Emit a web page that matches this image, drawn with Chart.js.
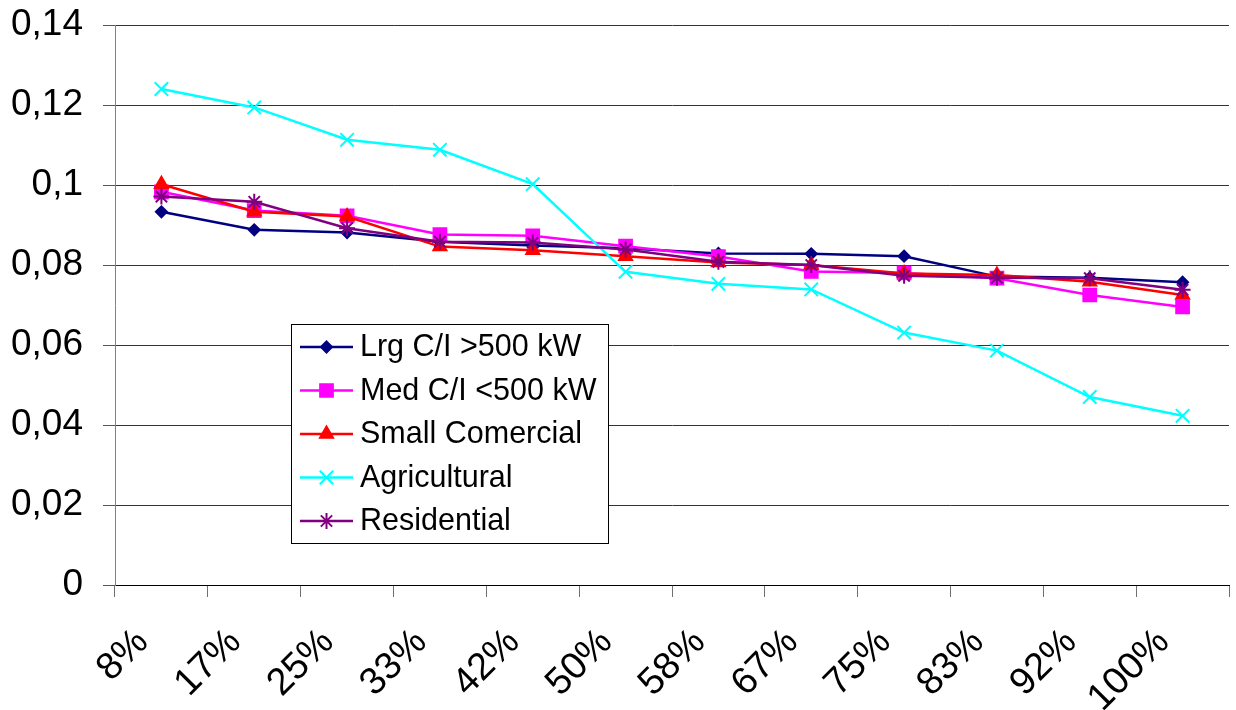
<!DOCTYPE html>
<html>
<head>
<meta charset="utf-8">
<script src="https://cdn.jsdelivr.net/npm/chart.js@4.4.1/dist/chart.umd.min.js"></script>
<style>
  html, body { margin: 0; padding: 0; background: #fff; }
  #wrap { width: 1236px; height: 710px; }
</style>
</head>
<body>
<div id="wrap"><canvas id="c" width="1236" height="710"></canvas></div>
<script>
// Load-duration share (x) against rate per customer class (y)
const categories = ['8%', '17%', '25%', '33%', '42%', '50%', '58%', '67%', '75%', '83%', '92%', '100%'];
const lrgCI        = [0.0933, 0.0888, 0.0881, 0.0858, 0.0849, 0.0842, 0.0829, 0.0828, 0.0822, 0.0771, 0.0768, 0.0757];
const medCI        = [0.0983, 0.0936, 0.0923, 0.0876, 0.0873, 0.0847, 0.0821, 0.0784, 0.0780, 0.0767, 0.0725, 0.0695];
const smallCom     = [0.1002, 0.0933, 0.0921, 0.0846, 0.0837, 0.0822, 0.0806, 0.0800, 0.0779, 0.0775, 0.0758, 0.0725];
const agricultural = [0.1240, 0.1194, 0.1113, 0.1088, 0.1002, 0.0783, 0.0753, 0.0739, 0.0631, 0.0586, 0.0470, 0.0423];
const residential  = [0.0971, 0.0958, 0.0892, 0.0858, 0.0856, 0.0839, 0.0808, 0.0800, 0.0773, 0.0768, 0.0767, 0.0738];
const yTickLabels  = ['0', '0,02', '0,04', '0,06', '0,08', '0,1', '0,12', '0,14'];

const FONT = '"Liberation Sans", Arial, sans-serif';

function series(label, data, color, style, radius, order) {
  return {
    label, data, order,
    borderColor: color, backgroundColor: color,
    borderWidth: 2.5, tension: 0,
    pointStyle: style, pointRadius: radius, pointHoverRadius: radius,
    pointBackgroundColor: color, pointBorderColor: color, pointBorderWidth: 2
  };
}

// Boxed legend sitting inside the plot area
const legendBox = {
  id: 'legendBox',
  afterDraw(chart) {
    const ctx = chart.ctx;
    const x0 = 291.5, y0 = 324.5, w = 317, h = 219;
    ctx.save();
    ctx.fillStyle = '#fff';
    ctx.fillRect(x0, y0, w, h);
    ctx.strokeStyle = '#000';
    ctx.lineWidth = 1;
    ctx.strokeRect(x0, y0, w, h);
    ctx.font = '30.5px ' + FONT;
    ctx.textBaseline = 'middle';
    ctx.textAlign = 'left';
    chart.data.datasets.forEach((ds, i) => {
      const cy = 347 + i * 43.5;
      ctx.strokeStyle = ds.borderColor;
      ctx.lineWidth = ds.borderWidth;
      ctx.beginPath();
      ctx.moveTo(300, cy);
      ctx.lineTo(353, cy);
      ctx.stroke();
      ctx.fillStyle = ds.pointBackgroundColor;
      ctx.strokeStyle = ds.pointBorderColor;
      ctx.lineWidth = ds.pointBorderWidth;
      Chart.helpers.drawPoint(ctx, {
        pointStyle: ds.pointStyle, radius: ds.pointRadius,
        borderWidth: ds.pointBorderWidth, rotation: 0
      }, 326.5, cy);
      ctx.fillStyle = '#000';
      ctx.fillText(ds.label, 360, cy + 1);
    });
    ctx.restore();
  }
};

new Chart(document.getElementById('c'), {
  type: 'line',
  data: {
    labels: categories,
    datasets: [
      series('Lrg C/I >500 kW', lrgCI, '#000080', 'rectRot', 5.5, 5),
      series('Med C/I <500 kW', medCI, '#FF00FF', 'rect', 9, 4),
      series('Small Comercial', smallCom, '#FF0000', 'triangle', 7.5, 3),
      series('Agricultural', agricultural, '#00FFFF', 'crossRot', 9.5, 2),
      series('Residential', residential, '#800080', 'star', 8, 1)
    ]
  },
  options: {
    responsive: false,
    devicePixelRatio: 1,
    animation: false,
    layout: { autoPadding: false, padding: { left: 0, right: 7, top: 25, bottom: 0 } },
    plugins: { legend: { display: false }, tooltip: { enabled: false } },
    scales: {
      x: {
        type: 'category',
        offset: true,
        grid: { display: true, drawOnChartArea: false, drawTicks: true, tickLength: 12, offset: true, color: '#707070', lineWidth: 1 },
        border: { display: true, color: '#000', width: 1 },
        ticks: {
          autoSkip: false, minRotation: 45, maxRotation: 45,
          padding: 23, labelOffset: -19, color: '#000',
          font: { family: FONT, size: 38 }
        },
        afterFit(s) { s.height = 125; s.paddingLeft = 0; s.paddingRight = 0; s.paddingTop = 0; s.paddingBottom = 0; }
      },
      y: {
        min: 0, max: 0.14,
        ticks: {
          stepSize: 0.02, padding: 20, color: '#000',
          font: { family: FONT, size: 37 },
          callback: (v) => yTickLabels[Math.round(v / 0.02)]
        },
        grid: { color: '#333', tickColor: '#555', tickLength: 12, lineWidth: 1 },
        border: { color: '#808080', width: 1 },
        afterFit(s) { s.width = 115; s.paddingTop = 0; s.paddingBottom = 0; }
      }
    }
  },
  plugins: [legendBox]
});
</script>
</body>
</html>
